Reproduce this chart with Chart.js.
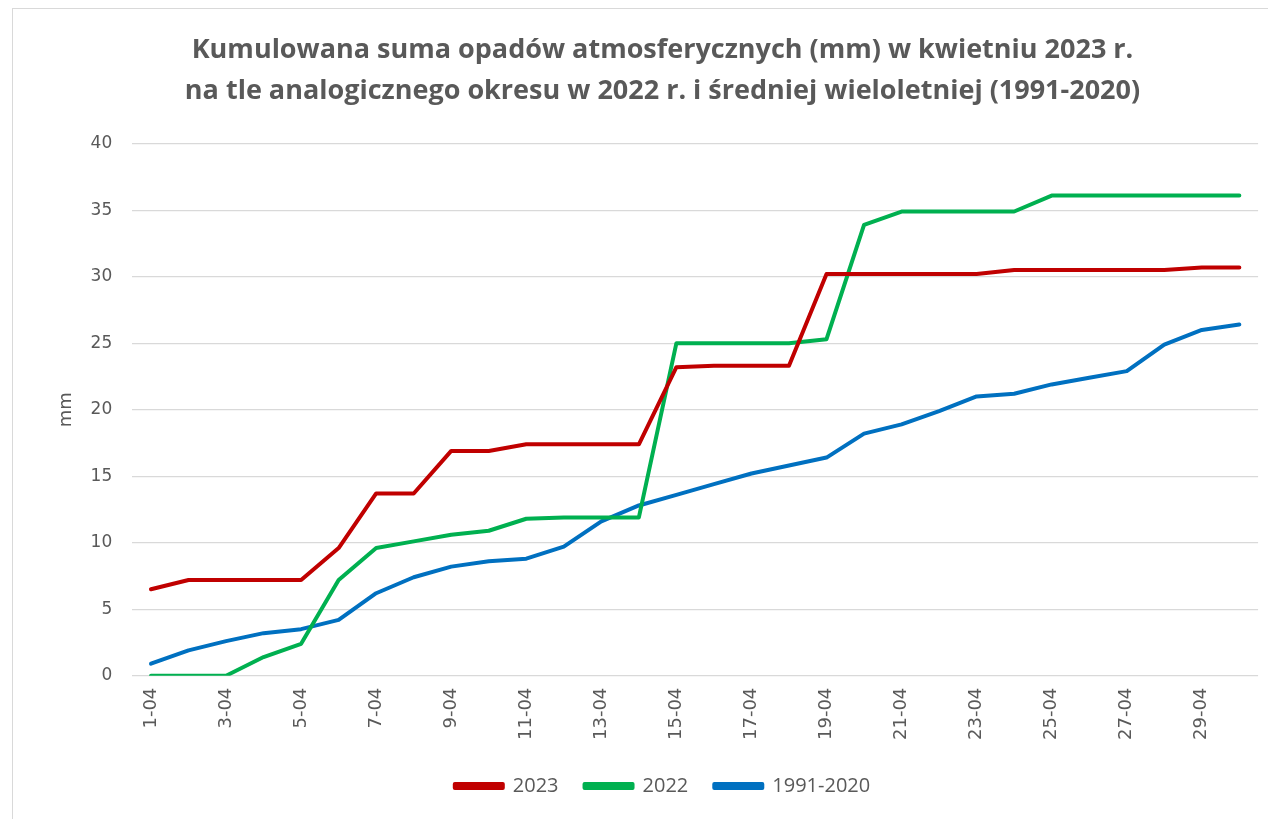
<!DOCTYPE html>
<html>
<head>
<meta charset="utf-8">
<script src="https://cdn.jsdelivr.net/npm/chart.js@4.4.0/dist/chart.umd.min.js"></script>
<style>
    html, body { margin: 0; padding: 0; background: #fff; }
    #wrap {
        position: absolute; left: 12px; top: 8px;
        width: 1262px; height: 815px;
        border: 1px solid #d9d9d9; box-sizing: border-box;
    }
</style>
</head>
<body>
<div id="wrap"><canvas id="rainChart"></canvas></div>

<script>
    // dni kwietnia
    const days = ["1-04","2-04","3-04","4-04","5-04","6-04","7-04","8-04","9-04","10-04",
        "11-04","12-04","13-04","14-04","15-04","16-04","17-04","18-04","19-04","20-04",
        "21-04","22-04","23-04","24-04","25-04","26-04","27-04","28-04","29-04","30-04"];

    const rain2023 = [6.5, 7.2, 7.2, 7.2, 7.2, 9.6, 13.7, 13.7, 16.9, 16.9,
        17.4, 17.4, 17.4, 17.4, 23.2, 23.3, 23.3, 23.3, 30.2, 30.2,
        30.2, 30.2, 30.2, 30.5, 30.5, 30.5, 30.5, 30.5, 30.7, 30.7];

    const rain2022 = [0, 0, 0, 1.4, 2.4, 7.2, 9.6, 10.1, 10.6, 10.9,
        11.8, 11.9, 11.9, 11.9, 25.0, 25.0, 25.0, 25.0, 25.3, 33.9,
        34.9, 34.9, 34.9, 34.9, 36.1, 36.1, 36.1, 36.1, 36.1, 36.1];

    const rainNorm = [0.9, 1.9, 2.6, 3.2, 3.5, 4.2, 6.2, 7.4, 8.2, 8.6,
        8.8, 9.7, 11.6, 12.8, 13.6, 14.4, 15.2, 15.8, 16.4, 18.2,
        18.9, 19.9, 21.0, 21.2, 21.9, 22.4, 22.9, 24.9, 26.0, 26.4];

    const yTicks = [0, 5, 10, 15, 20, 25, 30, 35, 40];

    const titleLines = [
        "Kumulowana suma opadów atmosferycznych (mm) w kwietniu 2023 r.",
        "na tle analogicznego okresu w 2022 r. i średniej wieloletniej (1991-2020)"
    ];

    const textColor = "#595959";
    const gridColor = "#d9d9d9";

    function series(label, data, color) {
        return {
            label: label,
            data: data,
            borderColor: color,
            backgroundColor: color,
            borderWidth: 4,
            pointRadius: 0,
            tension: 0,
            borderCapStyle: "round",
            borderJoinStyle: "round"
        };
    }

    const ctx = document.getElementById("rainChart").getContext("2d");
    new Chart(ctx, {
        type: "line",
        data: {
            labels: days,
            datasets: [
                series("2023", rain2023, "#c00000"),
                series("2022", rain2022, "#00b050"),
                series("1991-2020", rainNorm, "#0070c0")
            ]
        },
        options: {
            responsive: true,
            maintainAspectRatio: false,
            animation: false,
            layout: { padding: { left: 43, right: 4, top: 8, bottom: 16 } },
            plugins: {
                title: {
                    display: true,
                    text: titleLines,
                    color: textColor,
                    font: { family: "'Open Sans', sans-serif", size: 27, weight: "bold", lineHeight: 1.55 },
                    padding: { top: 12, bottom: 31 }
                },
                legend: {
                    position: "bottom",
                    labels: {
                        color: textColor,
                        boxWidth: 48,
                        boxHeight: 4,
                        padding: 26,
                        font: { family: "'Open Sans', sans-serif", size: 20 }
                    }
                },
                tooltip: { enabled: false }
            },
            scales: {
                x: {
                    offset: true,
                    grid: { display: false, drawTicks: false },
                    border: { display: false },
                    afterFit: function (scale) { scale.height -= 2; },
                    ticks: {
                        autoSkip: false,
                        maxRotation: 90,
                        minRotation: 90,
                        padding: 12,
                        color: textColor,
                        font: { family: "'DejaVu Sans', sans-serif", size: 18 },
                        callback: function (val, i) { return i % 2 === 0 ? days[i] : ""; }
                    }
                },
                y: {
                    min: 0,
                    max: 40,
                    afterBuildTicks: function (axis) {
                        axis.ticks = yTicks.map(v => ({ value: v }));
                    },
                    grid: { color: gridColor, lineWidth: 1.3, drawTicks: false },
                    border: { display: false },
                    afterFit: function (scale) { scale.width -= 7; },
                    ticks: {
                        padding: 20,
                        color: textColor,
                        font: { family: "'DejaVu Sans', sans-serif", size: 17 }
                    },
                    title: {
                        display: true,
                        text: "mm",
                        color: textColor,
                        padding: { top: 0, bottom: 0 },
                        font: { family: "'DejaVu Sans', sans-serif", size: 18 }
                    }
                }
            }
        }
    });
</script>
</body>
</html>
